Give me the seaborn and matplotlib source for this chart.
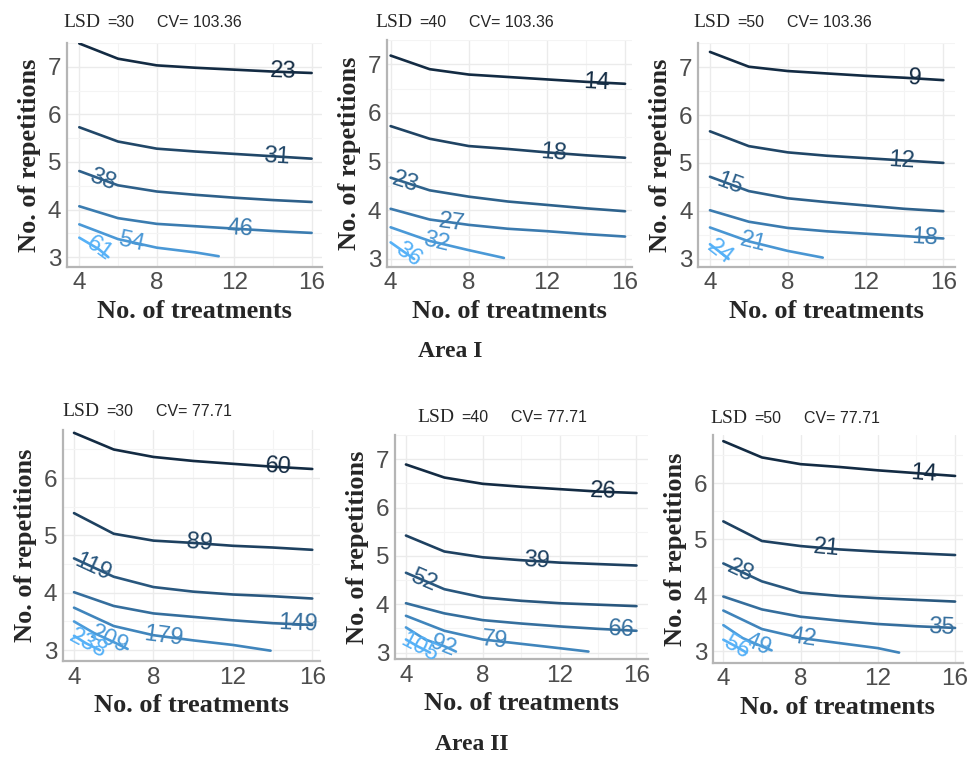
import numpy as np
import pandas as pd
import matplotlib
matplotlib.use("Agg")
import matplotlib.pyplot as plt
import seaborn as sns


W, H = 973, 765

# x positions (no. of treatments) used for the full-length contour lines
treat = [4, 6, 8, 10, 12, 14, 16]

# ---------------- Area I, LSD = 30 ----------------
a1_30_levels = [23, 31, 38, 46, 54, 61]
a1_30_x = [treat, treat, treat, treat, [4, 6, 8, 10, 11.2], [4, 5, 5.5]]
a1_30_y = [[7.49, 7.17, 7.03, 6.98, 6.94, 6.90, 6.87],
           [5.73, 5.43, 5.28, 5.22, 5.17, 5.12, 5.07],
           [4.81, 4.51, 4.38, 4.31, 4.25, 4.20, 4.16],
           [4.07, 3.82, 3.70, 3.65, 3.60, 3.55, 3.51],
           [3.69, 3.38, 3.20, 3.10, 3.02],
           [3.41, 3.17, 3.00]]
a1_30_lab = [14.55, 14.2, 5.2, 12.3, 6.66, 5.0]

# ---------------- Area I, LSD = 40 ----------------
a1_40_levels = [14, 18, 23, 27, 32, 36]
a1_40_x = [treat, treat, treat, treat, [4, 6, 8, 9.8], [4, 4.6, 5.2]]
a1_40_y = [[7.18, 6.90, 6.79, 6.74, 6.69, 6.64, 6.60],
           [5.73, 5.47, 5.32, 5.26, 5.19, 5.13, 5.08],
           [4.67, 4.41, 4.28, 4.18, 4.11, 4.04, 3.98],
           [4.03, 3.81, 3.70, 3.62, 3.57, 3.51, 3.46],
           [3.65, 3.37, 3.18, 3.02],
           [3.34, 3.17, 3.00]]
a1_40_lab = [14.55, 12.33, 4.75, 7.12, 6.35, 4.9]

# ---------------- Area I, LSD = 50 ----------------
a1_50_levels = [9, 12, 15, 18, 21, 24]
a1_50_x = [treat, treat, treat, treat, [4, 6, 8, 9.8], [4, 4.5, 4.95]]
a1_50_y = [[7.32, 7.01, 6.92, 6.87, 6.82, 6.78, 6.73],
           [5.66, 5.35, 5.22, 5.15, 5.10, 5.05, 5.00],
           [4.71, 4.41, 4.26, 4.18, 4.11, 4.04, 3.99],
           [4.01, 3.77, 3.64, 3.57, 3.52, 3.47, 3.42],
           [3.65, 3.36, 3.16, 3.02],
           [3.30, 3.14, 3.00]]
a1_50_lab = [14.55, 13.86, 5.03, 15.06, 6.23, 4.51]

# ---------------- Area II, LSD = 30 ----------------
a2_30_levels = [60, 89, 119, 149, 179, 209, 238]
a2_30_x = [treat, treat, treat, treat, [4, 6, 8, 10, 12, 13.9],
           [4, 5, 6, 6.7], [4, 4.6, 5.3]]
a2_30_y = [[6.79, 6.50, 6.37, 6.30, 6.25, 6.20, 6.16],
           [5.39, 5.03, 4.91, 4.87, 4.82, 4.79, 4.75],
           [4.60, 4.28, 4.10, 4.02, 3.97, 3.94, 3.90],
           [4.01, 3.77, 3.64, 3.58, 3.52, 3.47, 3.44],
           [3.74, 3.42, 3.26, 3.17, 3.09, 2.99],
           [3.50, 3.30, 3.14, 3.02],
           [3.25, 3.12, 3.00]]
a2_30_lab = [14.3, 10.34, 4.97, 15.3, 8.5, 5.8, 4.7]

# ---------------- Area II, LSD = 40 ----------------
a2_40_levels = [26, 39, 52, 66, 79, 92, 105]
a2_40_x = [treat, treat, treat, treat, [4, 6, 8, 10, 12, 13.5],
           [4, 5, 6, 6.6], [4, 4.6, 5.25]]
a2_40_y = [[6.89, 6.62, 6.49, 6.43, 6.38, 6.33, 6.30],
           [5.42, 5.09, 4.97, 4.91, 4.86, 4.83, 4.80],
           [4.65, 4.31, 4.14, 4.07, 4.02, 3.99, 3.96],
           [4.02, 3.81, 3.67, 3.60, 3.54, 3.49, 3.45],
           [3.76, 3.45, 3.27, 3.18, 3.09, 3.02],
           [3.52, 3.27, 3.13, 3.02],
           [3.27, 3.13, 3.00]]
a2_40_lab = [14.26, 10.8, 4.9, 15.2, 8.6, 5.94, 4.73]

# ---------------- Area II, LSD = 50 ----------------
a2_50_levels = [14, 21, 28, 35, 42, 49, 56]
a2_50_x = [treat, treat, treat, treat, [4, 6, 8, 10, 12, 13.1],
           [4, 5, 6, 6.5], [4, 4.6, 5.2]]
a2_50_y = [[6.75, 6.46, 6.34, 6.29, 6.23, 6.18, 6.13],
           [5.32, 4.97, 4.88, 4.82, 4.78, 4.75, 4.72],
           [4.57, 4.25, 4.05, 3.99, 3.95, 3.92, 3.89],
           [3.98, 3.75, 3.62, 3.55, 3.49, 3.45, 3.42],
           [3.73, 3.40, 3.24, 3.15, 3.06, 2.98],
           [3.47, 3.24, 3.09, 3.02],
           [3.21, 3.10, 2.98]]
a2_50_lab = [14.36, 9.35, 4.86, 15.3, 8.15, 5.8, 4.7]

lsd_values = [30, 40, 50]
cv_area1 = "103.36"
cv_area2 = "77.71"

SANS = "Liberation Sans"
SERIF = "Liberation Serif"

sns.set_style("white")
plt.rcParams["font.family"] = [SANS, "DejaVu Sans"]

cmap = sns.blend_palette(["#132B43", "#56B1F7"], as_cmap=True)

fig = plt.figure(figsize=(W / 100, H / 100), dpi=100)


def px_rect(l, t, r, b):
    return [l / W, 1 - b / H, (r - l) / W, (b - t) / H]


def panel(rect, xlim, ylim, levels, xs, ys, lab_x, yticks):
    ax = fig.add_axes(px_rect(*rect))
    rows = []
    for lev, xx, yy in zip(levels, xs, ys):
        for a, b in zip(xx, yy):
            rows.append({"treat": a, "rep": b, "level": lev})
    df = pd.DataFrame(rows)
    norm = (min(levels), max(levels))
    sns.lineplot(data=df, x="treat", y="rep", hue="level", units="level",
                 estimator=None, sort=False, palette=cmap, hue_norm=norm,
                 legend=False, linewidth=1.9, ax=ax)
    ax.set_xlim(*xlim)
    ax.set_ylim(*ylim)

    # grid like ggplot minimal theme
    ax.set_xticks([4, 8, 12, 16])
    ax.set_xticks([6, 10, 14], minor=True)
    ax.set_yticks(yticks)
    ax.set_yticks([v + 0.5 for v in yticks[:-1]] + [yticks[-1] + 0.5], minor=True)
    ax.grid(which="major", color="#EBEBEB", linewidth=1.0)
    ax.grid(which="minor", color="#F4F4F4", linewidth=0.8)
    ax.set_axisbelow(True)
    for s in ["top", "right"]:
        ax.spines[s].set_visible(False)
    for s in ["left", "bottom"]:
        ax.spines[s].set_color("#B5B5B5")
        ax.spines[s].set_linewidth(1.6)
    ax.tick_params(which="major", length=2.5, color="#B5B5B5", pad=1.5,
                   labelsize=17.5, labelcolor="#4D4D4D")
    ax.tick_params(which="minor", length=0)
    for t in ax.get_xticklabels() + ax.get_yticklabels():
        t.set_fontfamily(SANS)

    ax.set_xlabel("No. of treatments", fontfamily=SERIF, fontweight="bold",
                  fontsize=19, labelpad=4)
    ax.set_ylabel("No. of repetitions", fontfamily=SERIF, fontweight="bold",
                  fontsize=19, labelpad=5)

    # inline contour labels, rotated along the line
    for lev, xx, yy, lx in zip(levels, xs, ys, lab_x):
        ly = np.interp(lx, xx, yy)
        d = 0.25
        p0 = ax.transData.transform((lx - d, np.interp(lx - d, xx, yy)))
        p1 = ax.transData.transform((lx + d, np.interp(lx + d, xx, yy)))
        ang = np.degrees(np.arctan2(p1[1] - p0[1], p1[0] - p0[0]))
        col = cmap((lev - norm[0]) / (norm[1] - norm[0]))
        ax.text(lx, ly, str(lev), color=col, fontsize=17, fontfamily=SANS,
                rotation=ang, rotation_mode="anchor", ha="center", va="center")
    return ax


def panel_title(x, y, lsd, cv):
    fig.text(x / W, 1 - y / H, "LSD", fontfamily=SERIF, fontsize=14,
             va="baseline", ha="left")
    fig.text((x + 44) / W, 1 - y / H, f"={lsd}", fontfamily=SANS, fontsize=11.5,
             va="baseline", ha="left")
    fig.text((x + 94) / W, 1 - y / H, f"CV= {cv}", fontfamily=SANS, fontsize=11.5,
             va="baseline", ha="left")


panel((66.7, 43, 321.7, 266.7), (3.35, 16.52), (2.80, 7.48),
      a1_30_levels, a1_30_x, a1_30_y, a1_30_lab, [3, 4, 5, 6, 7])
panel((386.7, 40, 631.7, 266.7), (3.80, 16.34), (2.84, 7.26),
      a1_40_levels, a1_40_x, a1_40_y, a1_40_lab, [3, 4, 5, 6, 7])
panel((698.3, 43.3, 955, 266.7), (3.40, 16.6), (2.83, 7.34),
      a1_50_levels, a1_50_x, a1_50_y, a1_50_lab, [3, 4, 5, 6, 7])
panel((62.7, 430, 320, 661), (3.43, 16.39), (2.81, 6.84),
      a2_30_levels, a2_30_x, a2_30_y, a2_30_lab, [3, 4, 5, 6])
panel((395, 435, 648, 659.3), (3.43, 16.6), (2.86, 6.97),
      a2_40_levels, a2_40_x, a2_40_y, a2_40_lab, [3, 4, 5, 6, 7])
panel((712.7, 435, 963, 662.7), (3.45, 16.41), (2.80, 6.86),
      a2_50_levels, a2_50_x, a2_50_y, a2_50_lab, [3, 4, 5, 6])

panel_title(63, 27, lsd_values[0], cv_area1)
panel_title(375, 27, lsd_values[1], cv_area1)
panel_title(693, 27, lsd_values[2], cv_area1)
panel_title(62, 416, lsd_values[0], cv_area2)
panel_title(417, 422, lsd_values[1], cv_area2)
panel_title(710, 423, lsd_values[2], cv_area2)

fig.text(450 / W, 1 - 352 / H, "Area I", fontfamily=SERIF, fontweight="bold",
         fontsize=17, ha="center", va="center")
fig.text(472 / W, 1 - 745 / H, "Area II", fontfamily=SERIF, fontweight="bold",
         fontsize=17, ha="center", va="center")

fig.savefig("out.png", dpi=100, facecolor="white")
